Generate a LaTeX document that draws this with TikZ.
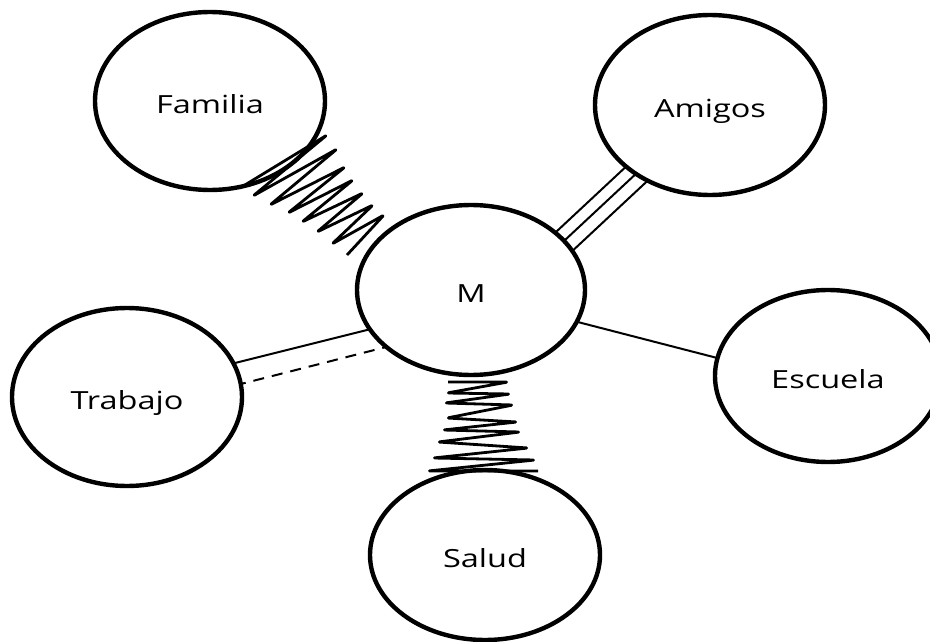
\documentclass[tikz,border=0pt]{standalone}
\usepackage{fontspec}
\setmainfont{Open Sans}
\usetikzlibrary{shapes.geometric}
\pgfdeclarelayer{bg}
\pgfsetlayers{bg,main}
\newcommand{\lbl}[1]{\raisebox{-4pt}{\scalebox{1.3}[1]{#1}}}
\begin{document}
\begin{tikzpicture}[x=1pt,y=-1pt,
  circ/.style={ellipse,draw,line width=4.4pt,fill=white,inner sep=0pt,
    minimum width=230pt,minimum height=176pt,
    font=\fontsize{25}{30}\selectfont,text height=17pt,text depth=0pt},
  link/.style={line width=2pt},
  dlink/.style={line width=2pt,dash pattern=on 11pt off 8pt},
  spring/.style={line width=2.8pt,rounded corners=1.5pt,line join=round}]
\useasboundingbox (0,0) rectangle (930,642);
\clip (0,0) rectangle (930,642);

\node[circ,minimum width=230pt,minimum height=178pt] (fam) at (210,101) {\lbl{Familia}};
\node[circ,minimum width=230pt,minimum height=180pt] (ami) at (710,105) {\lbl{Amigos}};
\node[circ,minimum width=228pt,minimum height=170pt] (m) at (471,290) {\lbl{M}};
\node[circ,minimum width=230pt,minimum height=178pt] (tra) at (127,397) {\lbl{Trabajo}};
\node[circ,minimum width=226pt,minimum height=172pt] (esc) at (828,376) {\lbl{Escuela}};
\node[circ,minimum width=230pt,minimum height=170pt] (sal) at (485,555) {\lbl{Salud}};

\begin{pgfonlayer}{bg}
  % Amigos - M : three parallel lines
  \coordinate (ma1) at (536.8,249.9); \coordinate (am1) at (656.8,137.9);
  \coordinate (ma2) at (545,258.7);   \coordinate (am2) at (665,146.7);
  \coordinate (ma3) at (553.9,268.2); \coordinate (am3) at (673.9,156.2);
  \draw[link] (ma1) -- (am1);
  \draw[link] (ma2) -- (am2);
  \draw[link] (ma3) -- (am3);
  % Trabajo - M : solid and dashed
  \coordinate (tm1) at (225,365.5); \coordinate (mt1) at (380,326.75);
  \coordinate (tm2) at (235,385.5); \coordinate (mt2) at (392,345.5);
  \draw[link] (tm1) -- (mt1);
  \draw[dlink] (tm2) -- (mt2);
  % Escuela - M
  \coordinate (me) at (570,320); \coordinate (em) at (725,360);
  \draw[link] (me) -- (em);
\end{pgfonlayer}

% Familia - M spring
\draw[spring] (240,188) -- (327,135) -- (253,196) -- (337,149) -- (270,205)
  -- (345,167) -- (288,213) -- (353,180) -- (302,222) -- (363,193)
  -- (317,232) -- (373,205) -- (332,244) -- (384,215) -- (347,255);

% Salud - M spring
\draw[spring] (448,382) -- (508,382) -- (447,393) -- (510,394) -- (445,403)
  -- (513,405) -- (447,418) -- (517,422) -- (443,430) -- (520,432)
  -- (438,442) -- (528,448) -- (433,458) -- (535,460) -- (428,471) -- (538,471);
\end{tikzpicture}
\end{document}
